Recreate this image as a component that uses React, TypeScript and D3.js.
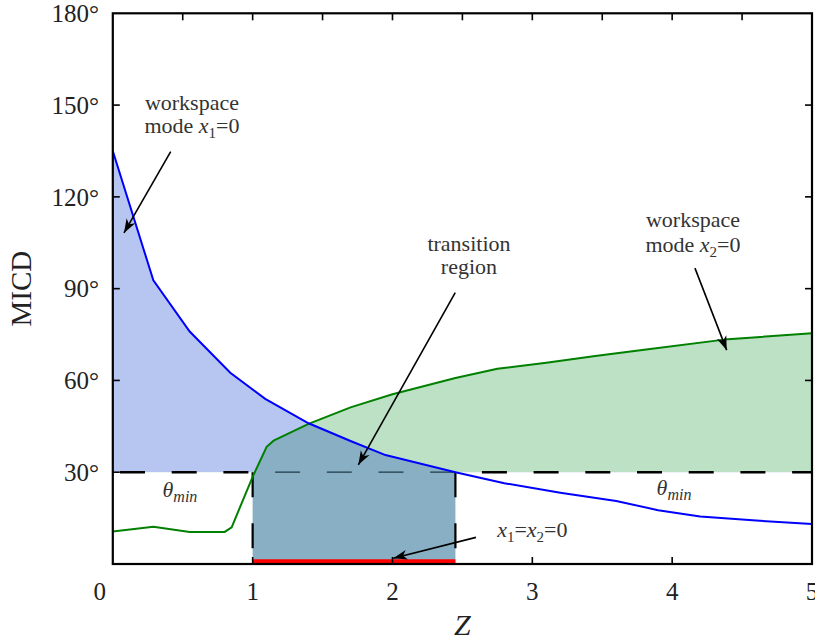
import React from 'react';
import * as d3 from 'd3';

// Z samples and MICD (degrees)
const zBlue = [0, 0.29, 0.55, 0.84, 1.09, 1.4, 1.7, 1.95, 2.45, 2.8, 3.2, 3.6, 3.9, 4.2, 4.6, 5];
const micdBlue = [135, 92.7, 76, 62.5, 54, 46, 40.2, 35.6, 30, 26.4, 23.3, 20.6, 17.6, 15.5, 14.2, 13.1];
const zGreen = [0, 0.29, 0.55, 0.8, 0.85, 1.0, 1.1, 1.15, 1.4, 1.7, 2.0, 2.45, 2.75, 3.1, 3.45, 3.8, 4.4, 5];
const micdGreen = [10.6, 12.2, 10.5, 10.5, 12, 28.5, 38.3, 40.3, 45.8, 51.2, 55.5, 60.8, 63.8, 65.8, 68, 70, 73.5, 75.4];

// limits
const thetaMin = 30;
const transition = [1, 2.45];
const redLevel = 0.8;

// ticks
const xTicks = [0, 1, 2, 3, 4, 5];
const xTopTicks = [0.5, 1, 1.5, 2, 2.5, 3, 3.5, 4, 4.5];
const yTicks = [30, 60, 90, 120, 150, 180];

const W = 815, H = 641;
const left = 112.8, right = 812, top = 13.3, bottom = 564;
const FONT = '"Liberation Serif", "DejaVu Serif", serif';

const App = () => {
  const x = d3.scaleLinear().domain([0, 5]).range([left, right]);
  const y = d3.scaleLinear().domain([0, 180]).range([bottom, top]);

  const blue = zBlue.map((z, i) => [z, micdBlue[i]]);
  const green = zGreen.map((z, i) => [z, micdGreen[i]]);

  const line = d3.line<number[]>().x(d => x(d[0])).y(d => y(d[1]));
  const areaTo = (base: number) =>
    d3.area<number[]>().x(d => x(d[0])).y0(y(base)).y1(d => y(d[1]));

  // dash phase so that the 30° line keeps one continuous pattern
  const P = 51.7;
  const dashOff = (s: number) => (((s - 120) % P) + P) % P;

  const tickLen = 7;

  const arrow = (z0: number, d0: number, z1: number, d1: number) => (
    <line x1={x(z0)} y1={y(d0)} x2={x(z1)} y2={y(d1)}
      stroke="#000" strokeWidth={1.6} markerEnd="url(#head)" />
  );

  return (
    <svg width={W} height={H} style={{ position: 'absolute', left: 0, top: 0, background: '#fff' }}
      fontFamily={FONT}>
      <defs>
        <clipPath id="above30">
          <rect x={left} y={top} width={right - left} height={y(thetaMin) - top} />
        </clipPath>
        <clipPath id="underGreen">
          <path d={areaTo(0)(green) || ''} />
        </clipPath>
        <clipPath id="transX">
          <rect x={x(transition[0])} y={top} width={x(transition[1]) - x(transition[0])} height={bottom - top} />
        </clipPath>
        <marker id="head" markerUnits="userSpaceOnUse" markerWidth={16} markerHeight={12}
          viewBox="-14 -6 16 12" refX={0} refY={0} orient="auto">
          <path d="M0,0 L-14,-5 L-10,0 L-14,5 Z" fill="#000" />
        </marker>
      </defs>

      {/* fills */}
      <path d={areaTo(thetaMin)(blue) || ''} fill="#b7c6f1" clipPath="url(#above30)" />
      <path d={areaTo(thetaMin)(green) || ''} fill="#bce1c4" clipPath="url(#above30)" />
      <g clipPath="url(#transX)">
        <path d={areaTo(0)(blue) || ''} fill="#88afc3" clipPath="url(#underGreen)" />
      </g>

      {/* theta_min dashed line */}
      <line x1={x(0)} x2={x(transition[0])} y1={y(thetaMin)} y2={y(thetaMin)}
        stroke="#000" strokeWidth={2.4} strokeDasharray="25 26.7" strokeDashoffset={dashOff(x(0))} />
      <line x1={x(transition[1])} x2={x(5)} y1={y(thetaMin)} y2={y(thetaMin)}
        stroke="#000" strokeWidth={2.4} strokeDasharray="25 26.7" strokeDashoffset={dashOff(x(transition[1]))} />
      <line x1={x(transition[0])} x2={x(transition[1])} y1={y(thetaMin)} y2={y(thetaMin)}
        stroke="#1e3a48" strokeWidth={1.3} strokeDasharray="25 26.7" strokeDashoffset={dashOff(x(transition[0]))} />
      {transition.map(z => (
        <line key={z} x1={x(z)} x2={x(z)} y1={y(thetaMin)} y2={y(0)}
          stroke="#000" strokeWidth={2.2} strokeDasharray="25 26" />
      ))}

      {/* curves */}
      <path d={line(green) || ''} fill="none" stroke="#008000" strokeWidth={2} />
      <path d={line(blue) || ''} fill="none" stroke="#0000ff" strokeWidth={2} />
      <line x1={x(transition[0])} x2={x(transition[1])} y1={y(redLevel)} y2={y(redLevel)}
        stroke="#ff0000" strokeWidth={4.5} />

      {/* frame and ticks */}
      <rect x={left} y={top} width={right - left} height={bottom - top}
        fill="none" stroke="#000" strokeWidth={2.2} />
      {yTicks.filter(v => v > 0 && v < 180).map(v => (
        <g key={'y' + v}>
          <line x1={left} x2={left + tickLen} y1={y(v)} y2={y(v)} stroke="#000" strokeWidth={1.6} />
          <line x1={right - tickLen} x2={right} y1={y(v)} y2={y(v)} stroke="#000" strokeWidth={1.6} />
        </g>
      ))}
      {xTicks.filter(v => v > 0 && v < 5).map(v => (
        <line key={'x' + v} x1={x(v)} x2={x(v)} y1={bottom} y2={bottom - tickLen} stroke="#000" strokeWidth={1.6} />
      ))}
      {xTopTicks.map(v => (
        <line key={'t' + v} x1={x(v)} x2={x(v)} y1={top} y2={top + tickLen} stroke="#000" strokeWidth={1.6} />
      ))}

      {/* tick labels */}
      {yTicks.map(v => (
        <text key={'yl' + v} x={99} y={y(v)} dy="0.35em" textAnchor="end" fontSize={25} fill="#222">
          {v}°
        </text>
      ))}
      {xTicks.map(v => (
        <text key={'xl' + v} x={x(v)} dx={v === 0 ? -13 : 0} y={600} textAnchor="middle" fontSize={25} fill="#222">
          {v}
        </text>
      ))}

      {/* axis titles */}
      <text transform={`translate(31,${(top + bottom) / 2}) rotate(-90)`} textAnchor="middle" fontSize={29} fill="#222">
        MICD
      </text>
      <text x={(left + right) / 2} y={635} textAnchor="middle" fontSize={30} fontStyle="italic" fill="#222">Z</text>

      {/* annotations */}
      <g fontSize={22} fill="#333" textAnchor="middle">
        <text x={x(0.566)} y={y(148.4)}>workspace</text>
        <text x={x(0.566)} y={y(140.9)}>
          mode <tspan fontStyle="italic">x</tspan><tspan fontSize={15} dy={5}>1</tspan><tspan dy={-5}>=0</tspan>
        </text>

        <text x={x(2.547)} y={y(102.3)}>transition</text>
        <text x={x(2.547)} y={y(94.8)}>region</text>

        <text x={x(4.149)} y={y(110.3)}>workspace</text>
        <text x={x(4.149)} y={y(102.1)}>
          mode <tspan fontStyle="italic">x</tspan><tspan fontSize={15} dy={5}>2</tspan><tspan dy={-5}>=0</tspan>
        </text>

        <text x={x(3.0)} y={y(8.7)}>
          <tspan fontStyle="italic">x</tspan><tspan fontSize={15} dy={5}>1</tspan><tspan dy={-5}>=</tspan>
          <tspan fontStyle="italic">x</tspan><tspan fontSize={15} dy={5}>2</tspan><tspan dy={-5}>=0</tspan>
        </text>

        <text x={x(0.48)} y={y(22)}>
          <tspan fontStyle="italic">θ</tspan><tspan fontStyle="italic" fontSize={16} dy={5}>min</tspan>
        </text>
        <text x={x(4.013)} y={y(22.5)}>
          <tspan fontStyle="italic">θ</tspan><tspan fontStyle="italic" fontSize={16} dy={5}>min</tspan>
        </text>
      </g>

      {arrow(0.414, 134.8, 0.08, 108.2)}
      {arrow(2.449, 88.7, 1.756, 32.4)}
      {arrow(4.163, 96.7, 4.39, 69.9)}
      {arrow(2.597, 8.7, 2.006, 1.9)}
    </svg>
  );
};

export default App;
